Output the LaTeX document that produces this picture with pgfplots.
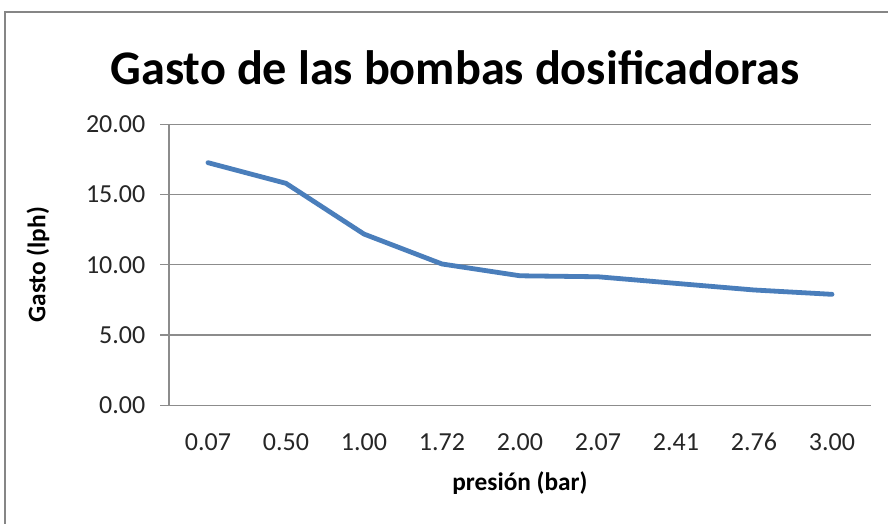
\documentclass[border=0pt]{standalone}
\usepackage{pgfplots}
\pgfplotsset{compat=1.18}
\usetikzlibrary{calc}
\usepackage{fontspec}
\setmainfont{Carlito}
\definecolor{excelblue}{HTML}{4A7EBB}
\definecolor{gridgray}{HTML}{8C8C8C}
\definecolor{framegray}{HTML}{868686}
\begin{document}
\begin{tikzpicture}[x=0.75pt,y=0.75pt]
\useasboundingbox (0,0) rectangle (888,524);
\fill[white] (0,0) rectangle (888,524);
\draw[color=framegray, line width=1.6pt] (5,0) -- (5,512) -- (888,512);
\node[font=\bfseries\fontsize{36.2}{40}\selectfont, anchor=base] at (455,524-85) {Gasto de las bombas dosificadoras};
\begin{axis}[
  at={(126.75pt,89pt)}, anchor=south west,
  scale only axis, width=526.5pt, height=210.75pt,
  xmin=-0.5, xmax=8.5, ymin=0, ymax=20,
  xtick={0,...,8},
  xticklabels={0.07,0.50,1.00,1.72,2.00,2.07,2.41,2.76,3.00},
  ytick={0,5,10,15,20},
  /pgf/number format/assume math mode=true,
  yticklabel style={/pgf/number format/.cd, fixed, fixed zerofill, precision=2, /tikz/.cd, xshift=-7.5pt},
  xticklabel style={anchor=base, yshift=-27pt},
  tick label style={font=\fontsize{19.5}{22}\selectfont, text=black!85},
  axis x line*=bottom, axis y line*=left,
  axis line style={color=gridgray, line width=0.9pt, -},
  ymajorgrids, grid style={color=gridgray, line width=0.9pt},
  x tick style={draw=none},
  y tick style={color=gridgray, line width=0.9pt},
  tick align=outside, major tick length=6.75pt,
  xlabel={\textbf{presión (bar)}}, ylabel={\textbf{Gasto (lph)}},
  xlabel style={at={($(axis description cs:0.5,0)+(0,-58.5pt)$)}, anchor=center},
  ylabel style={at={($(axis description cs:0,0.5)+(-98.25pt,0)$)}, anchor=center},
  label style={font=\fontsize{19}{22}\selectfont},
  clip=false,
]
\addplot[color=excelblue, line width=3.6pt, line join=round, line cap=round, mark=none]
  coordinates {(0,17.27) (1,15.80) (2,12.19) (3,10.06) (4,9.22) (5,9.15) (6,8.68) (7,8.21) (8,7.90)};
\end{axis}
\end{tikzpicture}
\end{document}
